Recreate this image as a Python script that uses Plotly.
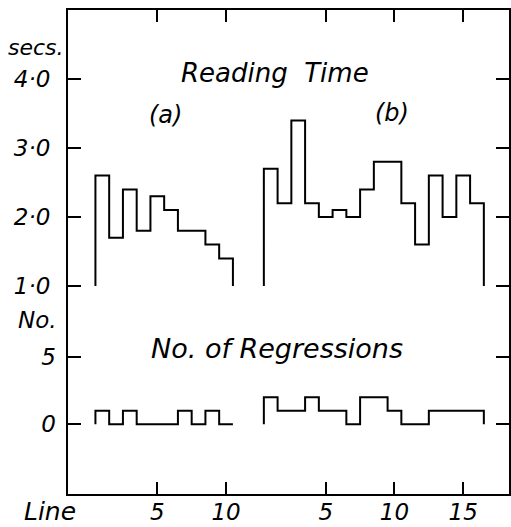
import plotly.graph_objects as go

# ---- data ----
lines_a = list(range(1, 11))
lines_b = list(range(1, 17))
time_a = [2.6, 1.7, 2.4, 1.8, 2.3, 2.1, 1.8, 1.8, 1.6, 1.4]
time_b = [2.7, 2.2, 3.4, 2.2, 2.0, 2.1, 2.0, 2.4, 2.8, 2.8, 2.2, 1.6, 2.6, 2.0, 2.6, 2.2]
regr_a = [1, 0, 1, 0, 0, 0, 1, 0, 1, 0]
regr_b = [2, 1, 1, 2, 1, 1, 0, 2, 2, 1, 0, 0, 1, 1, 1, 1]
time_ticks = [1.0, 2.0, 3.0, 4.0]
time_tick_text = ["1·0", "2·0", "3·0", "4·0"]
regr_ticks = [0, 5]
regr_tick_text = ["0", "5"]
line_ticks_a = [5, 10]
line_ticks_b = [5, 10, 15]

B_OFFSET = 12.25  # horizontal gap between part (a) and part (b)
TIME_BASE = 1.0
REGR_BASE = 0

FONT = "DejaVu Sans"


def step_xy(lines, values, base, offset=0.0):
    xs = [lines[0] - 0.5 + offset, lines[0] - 0.5 + offset]
    ys = [base, values[0]]
    for n, v in zip(lines[1:], values[1:]):
        xs.append(n - 0.5 + offset)
        ys.append(v)
    xs.append(lines[-1] + 0.5 + offset)
    ys.append(base)
    return xs, ys


fig = go.Figure()
line_style = dict(color="black", width=2, shape="hv")

for lines, vals, off in [(lines_a, time_a, 0.0), (lines_b, time_b, B_OFFSET)]:
    x, y = step_xy(lines, vals, TIME_BASE, off)
    fig.add_trace(go.Scatter(x=x, y=y, mode="lines", line=line_style,
                             yaxis="y", showlegend=False, hoverinfo="skip"))

for lines, vals, off in [(lines_a, regr_a, 0.0), (lines_b, regr_b, B_OFFSET)]:
    x, y = step_xy(lines, vals, REGR_BASE, off)
    fig.add_trace(go.Scatter(x=x, y=y, mode="lines", line=line_style,
                             yaxis="y2", showlegend=False, hoverinfo="skip"))

tick_font = dict(family=FONT, size=23, color="black", style="italic")

fig.update_layout(
    width=511, height=527,
    margin=dict(l=68, r=2, t=10, b=33),
    paper_bgcolor="white", plot_bgcolor="white",
    xaxis=dict(
        range=[-1.495, 30.58], automargin=False,
        tickvals=line_ticks_a + [t + B_OFFSET for t in line_ticks_b],
        ticktext=[str(t) for t in line_ticks_a] + [str(t) for t in line_ticks_b],
        ticks="inside", ticklen=12, tickwidth=2, tickcolor="black",
        showline=True, linecolor="black", linewidth=2, mirror="ticks",
        showgrid=False, zeroline=False, tickfont=tick_font,
        ticklabelstandoff=-4,
    ),
    yaxis=dict(
        range=[-2.014, 5.0], automargin=False,
        tickvals=time_ticks, ticktext=time_tick_text,
        ticks="inside", ticklen=13, tickwidth=2, tickcolor="black",
        showline=True, linecolor="black", linewidth=2, mirror="ticks",
        showgrid=False, zeroline=False, tickfont=tick_font,
        ticklabelstandoff=11,
    ),
    yaxis2=dict(
        range=[-5.16, 30.69], overlaying="y", side="left", automargin=False,
        tickvals=regr_ticks, ticktext=regr_tick_text,
        ticks="inside", ticklen=13, tickwidth=2, tickcolor="black",
        showline=False, mirror="ticks",
        showgrid=False, zeroline=False, tickfont=tick_font,
        ticklabelstandoff=11,
    ),
)

def ann(text, x, y, size, xanchor="center"):
    fig.add_annotation(text=text, x=x, y=y, xref="paper", yref="paper",
                       xanchor=xanchor, yanchor="middle", showarrow=False,
                       font=dict(family=FONT, size=size, color="black", style="italic"))

def px(xp, yp):
    # convert pixel coords to paper coords of the plot area
    return (xp - 68) / (509 - 68), (494 - yp) / (494 - 10)

for text, (xp, yp), size in [
    ("Reading  Time", (275, 73), 26),
    ("(a)", (165, 115), 24),
    ("(b)", (392, 113), 24),
    ("No. of Regressions", (277, 348), 27),
    ("secs.", (36, 47), 22),
    ("No.", (37, 320), 23),
    ("Line", (50, 511), 25),
]:
    xx, yy = px(xp, yp)
    ann(text, xx, yy, size)

fig.write_html(
    "out.html",
    config={"displayModeBar": False},
    post_script="document.body.style.margin='0';document.body.style.overflow='hidden';",
)
